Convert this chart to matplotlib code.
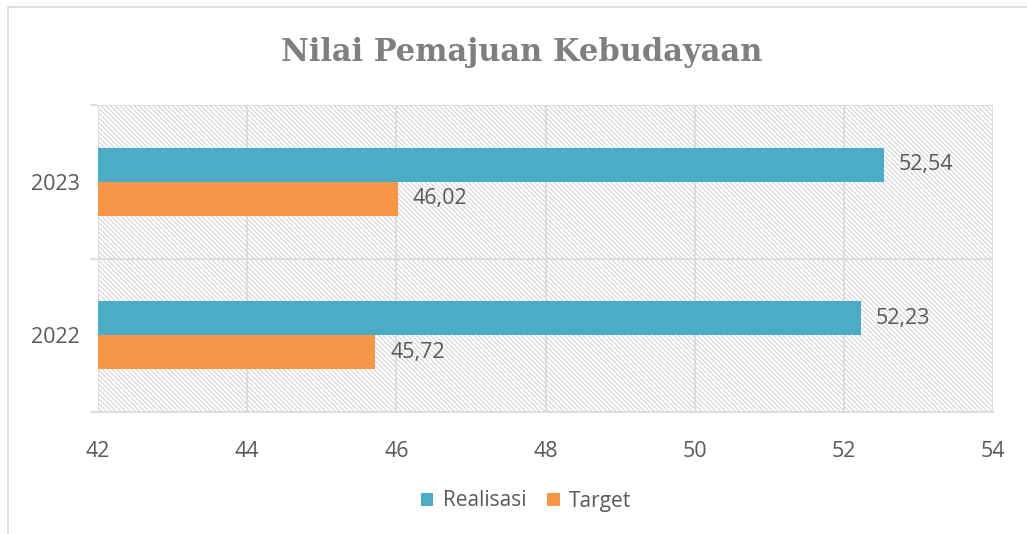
import matplotlib.pyplot as plt
from matplotlib.patches import Rectangle

years = ['2022', '2023']
realisasi = [52.23, 52.54]
target = [45.72, 46.02]
x_ticks = [42, 44, 46, 48, 50, 52, 54]

TEAL = '#4bacc6'
ORANGE = '#f79646'
GRID = '#d9d9d9'
TEXT = '#595959'

plt.rcParams['font.family'] = ['Open Sans', 'DejaVu Sans']
plt.rcParams['hatch.color'] = '#d4d4d4'
plt.rcParams['hatch.linewidth'] = 0.8

fig = plt.figure(figsize=(10.27, 5.34), dpi=100)
ax = fig.add_axes([98 / 1027, 1 - 412 / 534, (993 - 98) / 1027, (412 - 105) / 534])

# outer chart border
fig.patches.append(Rectangle((8 / 1027, -0.1), 1.1, 1 - 7 / 534 + 0.1,
                             transform=fig.transFigure, fill=False,
                             edgecolor=GRID, linewidth=1.2))

# hatched plot area
ax.add_patch(Rectangle((0, 0), 1, 1, transform=ax.transAxes, facecolor='white',
                       edgecolor='#d4d4d4', hatch='\\\\\\\\\\\\\\', linewidth=0, zorder=0))

pos = list(range(len(years)))
h = 0.222
ax.barh([p + h / 2 for p in pos], [v - 42 for v in realisasi], left=42, height=h,
        color=TEAL, label='Realisasi', zorder=3)
ax.barh([p - h / 2 for p in pos], [v - 42 for v in target], left=42, height=h,
        color=ORANGE, label='Target', zorder=3)

for p, v in zip(pos, realisasi):
    ax.text(v + 0.2, p + h / 2, f'{v:.2f}'.replace('.', ','), va='center', ha='left',
            fontsize=15.5, color=TEXT, zorder=4)
for p, v in zip(pos, target):
    ax.text(v + 0.2, p - h / 2, f'{v:.2f}'.replace('.', ','), va='center', ha='left',
            fontsize=15.5, color=TEXT, zorder=4)

ax.set_xlim(42, 54)
ax.set_ylim(-0.5, 1.5)
ax.set_xticks(x_ticks)
ax.set_xticklabels([str(t) for t in x_ticks])
ax.set_yticks(pos)
ax.set_yticklabels(years)
ax.set_yticks([-0.5, 0.5, 1.5], minor=True)
ax.tick_params(axis='y', which='major', length=0, pad=13, labelsize=15.5, labelcolor=TEXT)
ax.tick_params(axis='y', which='minor', length=6, color=GRID, width=1.2)
ax.tick_params(axis='x', length=0, pad=21, labelsize=15.5, labelcolor=TEXT)

ax.grid(axis='x', color=GRID, linewidth=1.2, zorder=1)
ax.set_axisbelow(True)
for y in [0.5, 1.5]:
    ax.axhline(y, color=GRID, linewidth=1.2, zorder=1)
for s in ['top', 'right', 'left']:
    ax.spines[s].set_visible(False)
ax.spines['bottom'].set_color(GRID)
ax.spines['bottom'].set_linewidth(1.2)

fig.text(0.508, 1 - 52 / 534, 'Nilai Pemajuan Kebudayaan', ha='center', va='center',
         fontsize=22, fontweight='bold', color='#7f7f7f', family='DejaVu Serif')

fig.legend(loc='center', bbox_to_anchor=(526 / 1027, 1 - 501 / 534), ncol=2, frameon=False,
           fontsize=15, handlelength=0.6, handleheight=0.6, handletextpad=0.45,
           columnspacing=1.0, labelcolor=TEXT)

fig.savefig('out.png', dpi=100)
